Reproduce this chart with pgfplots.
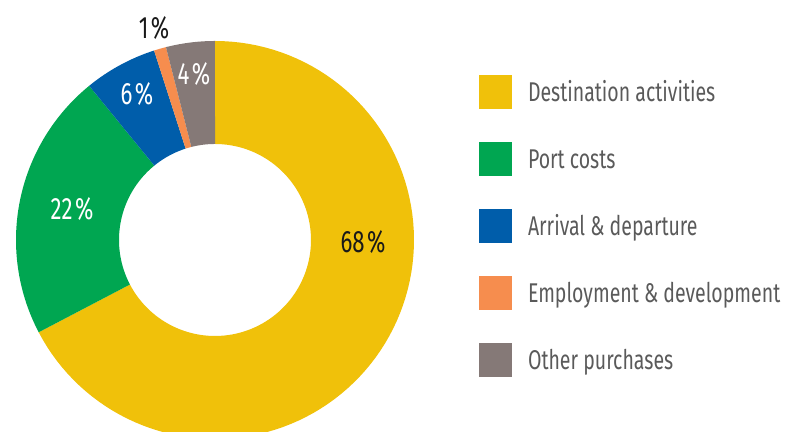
\documentclass[border=0pt]{standalone}
\usepackage{fontspec}
\setmainfont{Fira Sans}[FakeStretch=0.72]
\usepackage{pgfplots}
\pgfplotsset{compat=1.18}
\usepackage{pgfplotstable}

\definecolor{cYellow}{HTML}{F0C10A}
\definecolor{cGreen}{HTML}{00A651}
\definecolor{cBlue}{HTML}{005DAA}
\definecolor{cOrange}{HTML}{F68D4E}
\definecolor{cGray}{HTML}{857977}
\definecolor{cText}{HTML}{5A5A5A}

% shares in percent, clockwise from 12 o'clock
\pgfplotstableread{
share
68
22
6
1
4
}\shares

\pgfmathsetmacro\total{0}
\pgfplotsforeachungrouped \i in {0,...,4}{%
  \pgfplotstablegetelem{\i}{share}\of\shares
  \pgfmathsetmacro\total{\total+\pgfplotsretval}%
}

% centre (215,192), radii 199 / 96, in pixel units
\xdef\curang{90}
\newcommand\slice[3]{%
  \pgfplotstablegetelem{#1}{share}\of\shares
  \pgfmathsetmacro\angA{\curang}%
  \pgfmathsetmacro\angB{(\curang)-360/\total*\pgfplotsretval}%
  \pgfmathsetmacro\angD{(\angB)-(\angA)}%
  \xdef\curang{\angB}%
  \edef\doslice{\noexpand\addplot[fill=#2, draw=none, domain=0:201, samples=202]
    ({215+(x<100.5 ? 199*cos((\angA)+(\angD)*(x/100)) : 96*cos((\angB)-(\angD)*((x-101)/100)))},
     {192+(x<100.5 ? 199*sin((\angA)+(\angD)*(x/100)) : 96*sin((\angB)-(\angD)*((x-101)/100)))});}%
  \doslice
  \addlegendentry{#3}%
}
\newcommand\pct[1]{#1\kern1.2bp\%}

\begin{document}
\begin{tikzpicture}
\begin{axis}[
  x=0.5bp, y=0.5bp,
  xmin=0, xmax=785, ymin=0, ymax=432,
  hide axis,
  legend cell align=left,
  legend image code/.code={\fill[#1] (0bp,-8.5bp) rectangle (16.5bp,8.5bp);},
  legend style={
    at={(axis cs:479,357)}, anchor=north west,
    draw=none, fill=none, inner sep=0pt, outer sep=0pt,
    row sep=16.5bp,
    /tikz/every odd column/.append style={column sep=8bp},
    font=\fontsize{13.6}{16}\selectfont, text=cText,
    nodes={inner sep=0pt, text height=13.25bp, text depth=3.75bp},
  },
]
\slice{0}{cYellow}{Destination activities}
\slice{1}{cGreen}{Port costs}
\slice{2}{cBlue}{Arrival \& departure}
\slice{3}{cOrange}{Employment \& development}
\slice{4}{cGray}{Other purchases}

\begin{scope}[every node/.style={font=\fontsize{15.5}{18}\selectfont, inner sep=0pt}]
\node[text=black!90] at (axis cs:363,190) {\pct{68}};
\node[text=white] at (axis cs:72,223) {\pct{22}};
\node[text=white] at (axis cs:137,338) {\pct{6}};
\node[text=white] at (axis cs:194,358) {\pct{4}};
\node[text=black!90] at (axis cs:154,404) {\pct{1}};
\end{scope}
\end{axis}
\useasboundingbox (current axis.south west) rectangle (current axis.north east);
\end{tikzpicture}
\end{document}
